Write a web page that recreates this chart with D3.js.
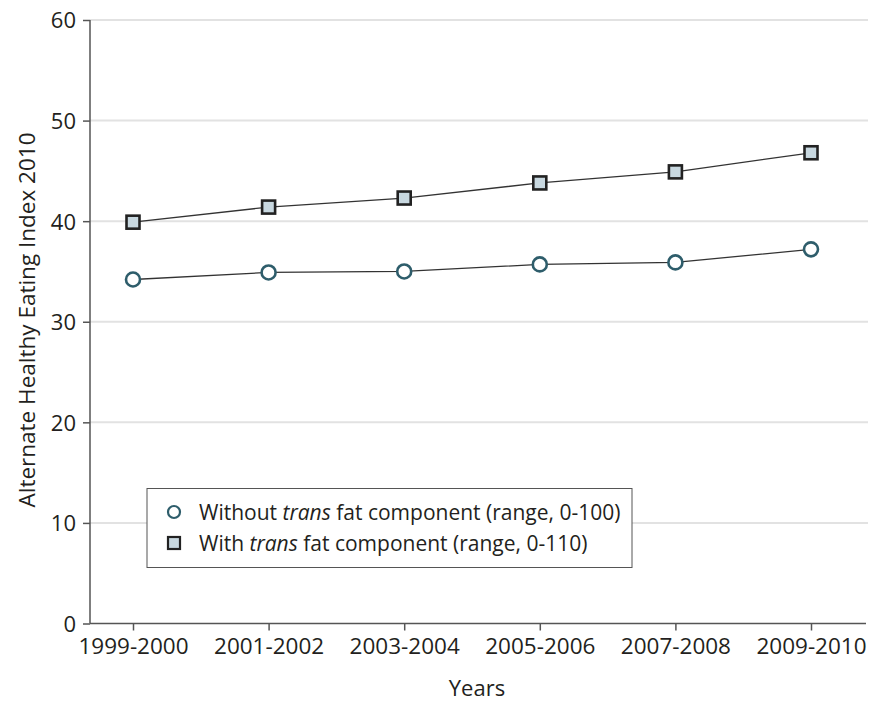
<!DOCTYPE html>
<html>
<head>
<meta charset="utf-8">
<script src="https://cdn.jsdelivr.net/npm/d3@7"></script>
<style>
  body { margin: 0; background: #fff; }
  text { font-family: "Open Sans", sans-serif; fill: #231f20; }
</style>
</head>
<body>
<svg id="chart" width="872" height="703"></svg>
<script>
const years = ["1999-2000", "2001-2002", "2003-2004", "2005-2006", "2007-2008", "2009-2010"];
const withoutTrans = [34.2, 34.9, 35.0, 35.7, 35.9, 37.2];
const withTrans = [39.9, 41.4, 42.3, 43.8, 44.9, 46.8];
const yTicks = [0, 10, 20, 30, 40, 50, 60];

const svg = d3.select("#chart");
const axisLeftX = 90;
const axisRightX = 866;

const xScale = d3.scalePoint().domain(years).range([133, 811]);
const yScale = d3.scaleLinear().domain([0, 60]).range([623.5, 20]);

// gridlines
svg.append("g")
  .selectAll("line")
  .data(yTicks.filter((d) => d > 0))
  .join("line")
  .attr("x1", axisLeftX)
  .attr("x2", axisRightX + 2)
  .attr("y1", (d) => yScale(d))
  .attr("y2", (d) => yScale(d))
  .attr("stroke", "#e2e2e2")
  .attr("stroke-width", 2);

// y axis
const yAxis = svg.append("g")
  .attr("transform", `translate(${axisLeftX},0)`)
  .call(d3.axisLeft(yScale).tickValues(yTicks).tickSize(7).tickPadding(7));
yAxis.select(".domain").remove();
yAxis.append("line")
  .attr("x1", 0).attr("x2", 0)
  .attr("y1", yScale(60)).attr("y2", yScale(0))
  .attr("stroke", "#555").attr("stroke-width", 1.5);
yAxis.selectAll(".tick line").attr("stroke", "#555").attr("stroke-width", 1.5);
yAxis.selectAll(".tick text").style("font-size", "22px").attr("dy", "0.36em");

// x axis
const xAxis = svg.append("g")
  .attr("transform", `translate(0,${yScale(0)})`)
  .call(d3.axisBottom(xScale).tickSize(7).tickPadding(8));
xAxis.select(".domain").remove();
xAxis.append("line")
  .attr("x1", axisLeftX).attr("x2", axisRightX)
  .attr("y1", 0).attr("y2", 0)
  .attr("stroke", "#555").attr("stroke-width", 1.5);
xAxis.selectAll(".tick line").attr("stroke", "#555").attr("stroke-width", 1.5);
xAxis.selectAll(".tick text").style("font-size", "22.5px");

// axis titles
svg.append("text")
  .attr("x", 477).attr("y", 696)
  .attr("text-anchor", "middle")
  .style("font-size", "22px")
  .text("Years");

svg.append("text")
  .attr("transform", "translate(35,320) rotate(-90)")
  .attr("text-anchor", "middle")
  .style("font-size", "22.5px")
  .text("Alternate Healthy Eating Index 2010");

const line = d3.line()
  .x((d, i) => xScale(years[i]))
  .y((d) => yScale(d));

[withoutTrans, withTrans].forEach((series) => {
  svg.append("path")
    .datum(series)
    .attr("d", line)
    .attr("fill", "none")
    .attr("stroke", "#333")
    .attr("stroke-width", 1.3);
});

svg.append("g")
  .selectAll("circle")
  .data(withoutTrans)
  .join("circle")
  .attr("cx", (d, i) => xScale(years[i]))
  .attr("cy", (d) => yScale(d))
  .attr("r", 7)
  .attr("fill", "#fff")
  .attr("stroke", "#2e5d6b")
  .attr("stroke-width", 2.6);

const sq = 13;
svg.append("g")
  .selectAll("rect")
  .data(withTrans)
  .join("rect")
  .attr("x", (d, i) => xScale(years[i]) - sq / 2)
  .attr("y", (d) => yScale(d) - sq / 2)
  .attr("width", sq)
  .attr("height", sq)
  .attr("fill", "#c8d8e0")
  .attr("stroke", "#222")
  .attr("stroke-width", 2.6);

// legend
const legend = svg.append("g");
legend.append("rect")
  .attr("x", 147).attr("y", 488.5)
  .attr("width", 485).attr("height", 79)
  .attr("fill", "#fff")
  .attr("stroke", "#555")
  .attr("stroke-width", 1);

legend.append("circle")
  .attr("cx", 174).attr("cy", 512).attr("r", 6)
  .attr("fill", "#fff").attr("stroke", "#2e5d6b").attr("stroke-width", 2.2);
legend.append("rect")
  .attr("x", 168).attr("y", 537).attr("width", 12).attr("height", 12)
  .attr("fill", "#c8d8e0").attr("stroke", "#222").attr("stroke-width", 2.2);

const t1 = legend.append("text").attr("x", 199).attr("y", 520).style("font-size", "21px");
t1.append("tspan").text("Without ");
t1.append("tspan").style("font-style", "italic").text("trans");
t1.append("tspan").text(" fat component (range, 0-100)");

const t2 = legend.append("text").attr("x", 199).attr("y", 551).style("font-size", "21px");
t2.append("tspan").text("With ");
t2.append("tspan").style("font-style", "italic").text("trans");
t2.append("tspan").text(" fat component (range, 0-110)");
</script>
</body>
</html>
